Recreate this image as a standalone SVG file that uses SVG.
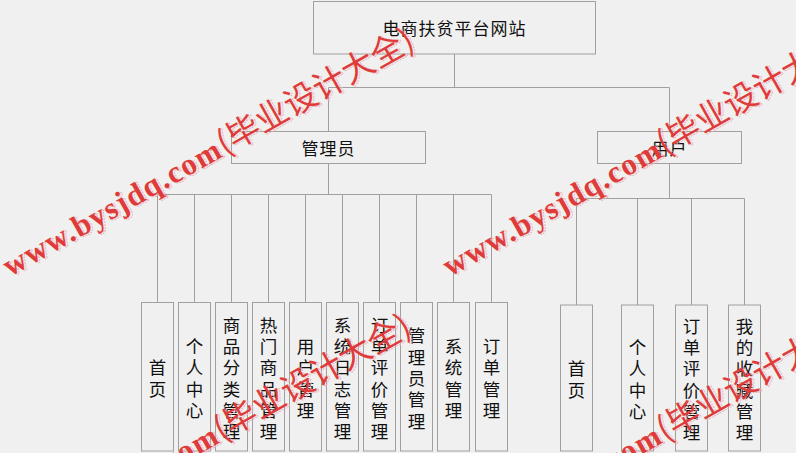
<svg xmlns="http://www.w3.org/2000/svg" width="796" height="453" viewBox="0 0 796 453">
<style>
.box{fill:#f0f0f0;stroke:#a0a0a0;stroke-width:1}
.ln{fill:none;stroke:#a0a0a0;stroke-width:1}
.t{font-family:"Noto Sans CJK SC","Microsoft YaHei",sans-serif;font-size:17px;fill:#111;text-anchor:middle;dominant-baseline:central;letter-spacing:1px}
.v{font-family:"Noto Sans CJK SC","Microsoft YaHei",sans-serif;font-size:17.5px;fill:#111;text-anchor:middle;dominant-baseline:central}
.wm{font-family:"Liberation Serif","Noto Sans CJK SC",serif;font-size:31px;font-weight:bold;letter-spacing:1.5px}
.wc{font-family:"Noto Sans CJK SC",sans-serif;font-size:33px;font-weight:normal;letter-spacing:0}
</style>
<defs>
<g id="wmark" transform="translate(10,277) rotate(-29.5)">
<text class="wm" x="1.5" y="1.5" fill="none" stroke="#eab5b5" stroke-width="1" stroke-dasharray="2 1">www.bysjdq.com<tspan class="wc">(毕业设计大全)</tspan></text>
<text class="wm" x="0" y="0" fill="#e03b3b">www.bysjdq.com<tspan class="wc">(毕业设计大全)</tspan></text>
</g>
</defs>
<rect width="796" height="453" fill="#f0f0f0"/>
<g id="connectors">
<path class="ln" d="M454.5 54 V87.5 M328.5 87.5 H669.5 M328.5 87.5 V131.5 M669.5 87.5 V131.5"/>
<path class="ln" d="M328.5 163.5 V194.5 M157.5 194.5 H491.5"/>
<path class="ln" d="M157.5 194.5 V302.5 M194.5 194.5 V302.5 M231.5 194.5 V302.5 M268.5 194.5 V302.5 M305.5 194.5 V302.5 M342.5 194.5 V302.5 M379.5 194.5 V302.5 M416.5 194.5 V302.5 M453.5 194.5 V302.5 M491.5 194.5 V302.5"/>
<path class="ln" d="M669.5 163.5 V198.5 M576.5 198.5 H744.5"/>
<path class="ln" d="M576.5 198.5 V305 M637.5 198.5 V305 M691.5 198.5 V305 M744.5 198.5 V305"/>
</g>
<g id="root"><rect class="box" x="313.5" y="1.5" width="282" height="52.5"/><text class="t" x="454.5" y="27.5">电商扶贫平台网站</text></g>
<g id="admin"><rect class="box" x="231.5" y="131.5" width="194" height="32"/><text class="t" x="328.5" y="147">管理员</text></g>
<g id="user"><rect class="box" x="597.5" y="131.5" width="144" height="32"/><text class="t" x="669.5" y="147">用户</text></g>

<g id="a1"><rect class="box" x="141.5" y="302.5" width="32" height="148.5"/><text class="v"><tspan x="157.5" y="366.3">首</tspan><tspan x="157.5" y="387.6">页</tspan></text></g>
<g id="a2"><rect class="box" x="178.5" y="302.5" width="32" height="148.5"/><text class="v"><tspan x="194.5" y="345">个</tspan><tspan x="194.5" y="366.3">人</tspan><tspan x="194.5" y="387.6">中</tspan><tspan x="194.5" y="409">心</tspan></text></g>
<g id="a3"><rect class="box" x="215.5" y="302.5" width="32" height="148.5"/><text class="v"><tspan x="231.5" y="323.7">商</tspan><tspan x="231.5" y="345">品</tspan><tspan x="231.5" y="366.3">分</tspan><tspan x="231.5" y="387.6">类</tspan><tspan x="231.5" y="409">管</tspan><tspan x="231.5" y="430.3">理</tspan></text></g>
<g id="a4"><rect class="box" x="252.5" y="302.5" width="32" height="148.5"/><text class="v"><tspan x="268.5" y="323.7">热</tspan><tspan x="268.5" y="345">门</tspan><tspan x="268.5" y="366.3">商</tspan><tspan x="268.5" y="387.6">品</tspan><tspan x="268.5" y="409">管</tspan><tspan x="268.5" y="430.3">理</tspan></text></g>
<g id="a5"><rect class="box" x="289.5" y="302.5" width="32" height="148.5"/><text class="v"><tspan x="305.5" y="345">用</tspan><tspan x="305.5" y="366.3">户</tspan><tspan x="305.5" y="387.6">管</tspan><tspan x="305.5" y="409">理</tspan></text></g>
<g id="a6"><rect class="box" x="326.5" y="302.5" width="32" height="148.5"/><text class="v"><tspan x="342.5" y="323.7">系</tspan><tspan x="342.5" y="345">统</tspan><tspan x="342.5" y="366.3">日</tspan><tspan x="342.5" y="387.6">志</tspan><tspan x="342.5" y="409">管</tspan><tspan x="342.5" y="430.3">理</tspan></text></g>
<g id="a7"><rect class="box" x="363.5" y="302.5" width="32" height="148.5"/><text class="v"><tspan x="379.5" y="323.7">订</tspan><tspan x="379.5" y="345">单</tspan><tspan x="379.5" y="366.3">评</tspan><tspan x="379.5" y="387.6">价</tspan><tspan x="379.5" y="409">管</tspan><tspan x="379.5" y="430.3">理</tspan></text></g>
<g id="a8"><rect class="box" x="400.5" y="302.5" width="32" height="148.5"/><text class="v"><tspan x="416.5" y="334.4">管</tspan><tspan x="416.5" y="355.7">理</tspan><tspan x="416.5" y="377">员</tspan><tspan x="416.5" y="398.3">管</tspan><tspan x="416.5" y="419.6">理</tspan></text></g>
<g id="a9"><rect class="box" x="437.5" y="302.5" width="32" height="148.5"/><text class="v"><tspan x="453.5" y="345">系</tspan><tspan x="453.5" y="366.3">统</tspan><tspan x="453.5" y="387.6">管</tspan><tspan x="453.5" y="409">理</tspan></text></g>
<g id="a10"><rect class="box" x="475.5" y="302.5" width="32" height="148.5"/><text class="v"><tspan x="491.5" y="345">订</tspan><tspan x="491.5" y="366.3">单</tspan><tspan x="491.5" y="387.6">管</tspan><tspan x="491.5" y="409">理</tspan></text></g>

<g id="u1"><rect class="box" x="560.5" y="305" width="32" height="146"/><text class="v"><tspan x="576.5" y="367.3">首</tspan><tspan x="576.5" y="388.6">页</tspan></text></g>
<g id="u2"><rect class="box" x="621.5" y="305" width="32" height="146"/><text class="v"><tspan x="637.5" y="346">个</tspan><tspan x="637.5" y="367.3">人</tspan><tspan x="637.5" y="388.6">中</tspan><tspan x="637.5" y="410">心</tspan></text></g>
<g id="u3"><rect class="box" x="675.5" y="305" width="32" height="146"/><text class="v"><tspan x="691.5" y="324.7">订</tspan><tspan x="691.5" y="346">单</tspan><tspan x="691.5" y="367.3">评</tspan><tspan x="691.5" y="388.6">价</tspan><tspan x="691.5" y="410">管</tspan><tspan x="691.5" y="431.3">理</tspan></text></g>
<g id="u4"><rect class="box" x="728.5" y="305" width="32" height="146"/><text class="v"><tspan x="744.5" y="324.7">我</tspan><tspan x="744.5" y="346">的</tspan><tspan x="744.5" y="367.3">收</tspan><tspan x="744.5" y="388.6">藏</tspan><tspan x="744.5" y="410">管</tspan><tspan x="744.5" y="431.3">理</tspan></text></g>

<g id="watermarks">
<use href="#wmark"/>
<use href="#wmark" transform="translate(440,0)"/>
<use href="#wmark" transform="translate(-3,286)"/>
<use href="#wmark" transform="translate(440,286)"/>
</g>
</svg>
